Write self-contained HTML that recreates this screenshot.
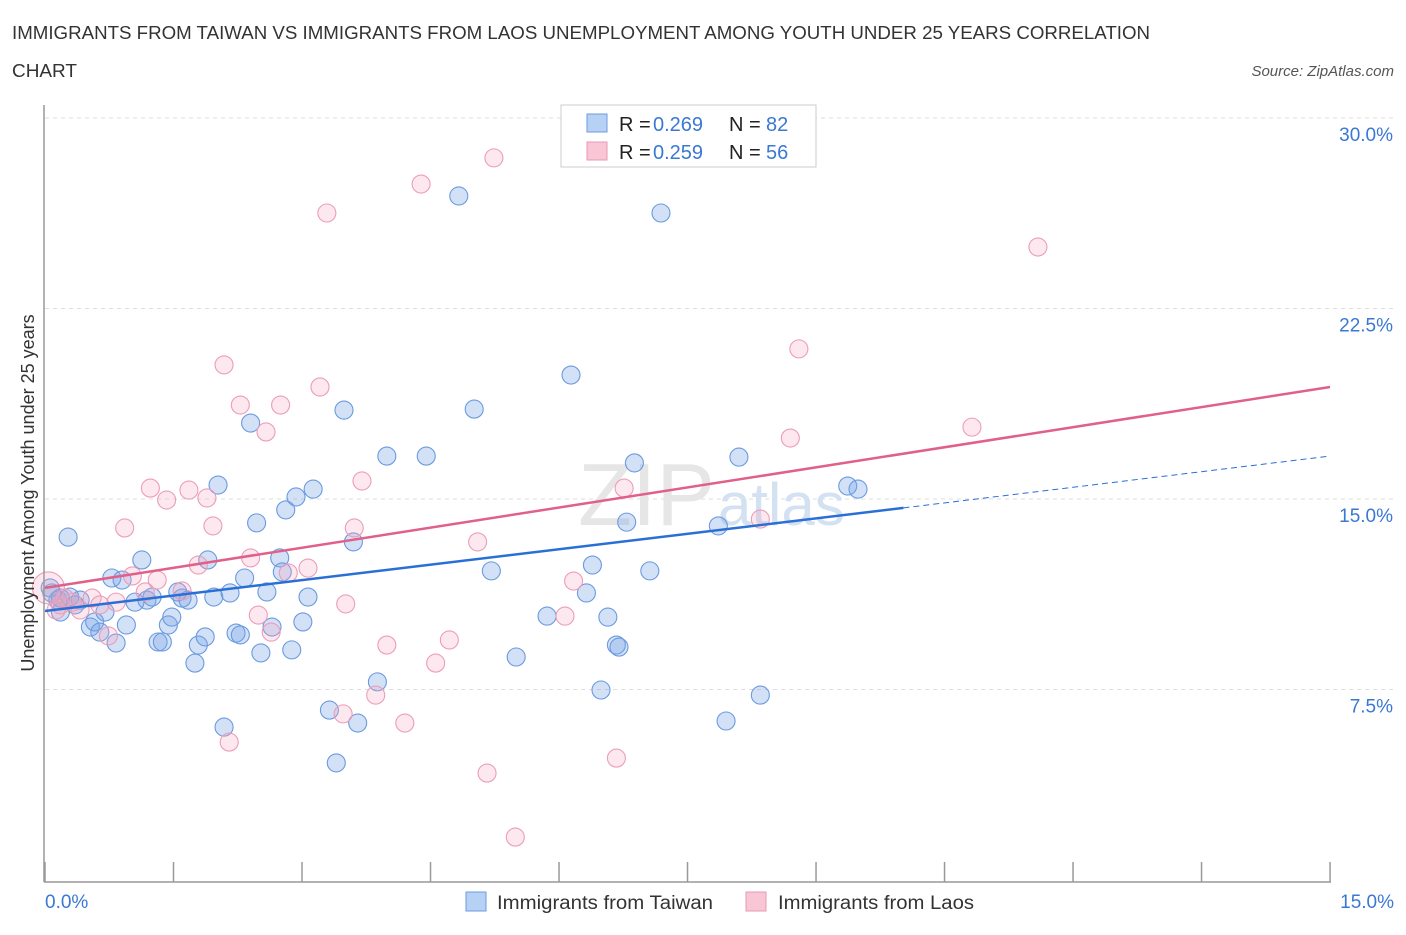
<!DOCTYPE html>
<html><head><meta charset="utf-8"><style>
body{margin:0;background:#fff;font-family:"Liberation Sans",sans-serif;}
svg text{font-family:"Liberation Sans",sans-serif;}
</style></head><body>
<svg width="1406" height="930" xmlns="http://www.w3.org/2000/svg">
<text x="12" y="39" font-size="18.5" fill="#333" textLength="1138" lengthAdjust="spacingAndGlyphs">IMMIGRANTS FROM TAIWAN VS IMMIGRANTS FROM LAOS UNEMPLOYMENT AMONG YOUTH UNDER 25 YEARS CORRELATION</text>
<text x="12" y="77" font-size="18.5" fill="#333" textLength="65" lengthAdjust="spacingAndGlyphs">CHART</text>
<text x="1394" y="76" font-size="15" fill="#555" font-style="italic" text-anchor="end">Source: ZipAtlas.com</text>
<g id="grid"></g>
<text x="715" y="525" font-size="88" font-family="Liberation Serif" fill="#e6e6e6" text-anchor="end">ZIP</text>
<text x="718" y="525" font-size="60" fill="#d3e1f3">atlas</text>
<g id="pts"></g>
<g id="lines"></g>
<line x1="44" y1="105" x2="44" y2="882" stroke="#999" stroke-width="1.5"/>
<line x1="44" y1="882" x2="1331" y2="882" stroke="#999" stroke-width="1.5"/>
<g id="ticks"></g>
<text x="45" y="908" font-size="19" fill="#3a78d4">0.0%</text>
<text x="1394" y="908" font-size="19" fill="#3a78d4" text-anchor="end">15.0%</text>
<text transform="translate(34,493) rotate(-90)" font-size="18" fill="#333" text-anchor="middle">Unemployment Among Youth under 25 years</text>
<g>
<rect x="561" y="105" width="255" height="62" fill="#fff" stroke="#ccc"/>
<rect x="587" y="114" width="20" height="18" fill="#b7d1f4" stroke="#6f9be0"/>
<rect x="587" y="142" width="20" height="18" fill="#f8c6d5" stroke="#e89ab3"/>
<text x="619" y="131" font-size="20" fill="#222">R =</text>
<text x="653" y="131" font-size="20" fill="#3a78d4">0.269</text>
<text x="729" y="131" font-size="20" fill="#222">N =</text>
<text x="766" y="131" font-size="20" fill="#3a78d4">82</text>
<text x="619" y="159" font-size="20" fill="#222">R =</text>
<text x="653" y="159" font-size="20" fill="#3a78d4">0.259</text>
<text x="729" y="159" font-size="20" fill="#222">N =</text>
<text x="766" y="159" font-size="20" fill="#3a78d4">56</text>
</g>
<g>
<rect x="466" y="892" width="20" height="19" fill="#b7d1f4" stroke="#6f9be0"/>
<text x="497" y="909" font-size="19" fill="#333" textLength="216" lengthAdjust="spacingAndGlyphs">Immigrants from Taiwan</text>
<rect x="746" y="892" width="20" height="19" fill="#f8c6d5" stroke="#e89ab3"/>
<text x="778" y="909" font-size="19" fill="#333" textLength="196" lengthAdjust="spacingAndGlyphs">Immigrants from Laos</text>
</g>
</svg>
<script>
const yTicks=[7.5,15,22.5,30];
const yTickLabels=["7.5%","15.0%","22.5%","30.0%"];
const xTicks=[0,1.5,3,4.5,6,7.5,9,10.5,12,13.5,15];
const blueX=[0.27,0.08,0.18,0.15,0.29,0.41,0.35,0.53,0.58,0.64,0.70,0.78,0.83,0.90,0.95,1.05,1.13,1.19,1.25,1.32,1.37,1.44,1.48,1.55,1.60,1.67,1.75,1.79,1.87,1.90,1.97,2.02,2.09,2.16,2.23,2.28,2.33,2.40,2.47,2.52,2.59,2.65,2.74,2.77,2.81,2.88,2.93,3.01,3.07,3.13,3.32,3.40,3.49,3.60,3.65,3.88,3.99,4.45,4.83,5.01,5.21,5.50,5.86,6.14,6.32,6.39,6.49,6.57,6.67,6.70,6.79,6.88,7.06,7.19,7.86,7.95,8.10,8.35,9.37,9.49,0.06,0.18];
const blueY=[13.50,11.30,10.55,11.02,11.14,11.02,10.83,9.96,10.16,9.76,10.55,11.89,9.33,11.81,10.04,10.94,12.60,11.02,11.14,9.37,9.37,10.04,10.35,11.34,11.10,11.02,8.54,9.25,9.57,12.60,11.14,15.55,6.02,11.30,9.72,9.65,11.89,17.99,14.06,8.94,11.34,9.96,12.68,12.13,14.57,9.06,15.08,10.16,11.14,15.39,6.69,4.61,18.50,13.31,6.18,7.80,16.69,16.69,26.93,18.54,12.17,8.78,10.39,19.88,11.30,12.40,7.48,10.35,9.25,9.17,14.09,16.42,12.17,26.26,13.94,6.26,16.65,7.28,15.51,15.39,11.50,11.10];
const pinkX=[0.04,0.13,0.23,0.32,0.41,0.55,0.64,0.74,0.83,0.93,1.02,1.17,1.23,1.31,1.42,1.60,1.68,1.79,1.89,1.96,2.09,2.15,2.28,2.40,2.49,2.58,2.64,2.75,2.84,3.07,3.21,3.29,3.51,3.48,3.61,3.70,3.86,3.99,4.20,4.39,4.56,4.72,5.05,5.16,5.24,5.49,6.07,6.17,6.67,6.76,8.35,8.70,8.80,10.82,11.59,0.18];
const pinkY=[11.50,10.63,11.10,10.94,10.63,11.10,10.83,9.61,10.94,13.86,11.97,11.34,15.43,11.81,14.96,11.38,15.35,12.40,15.04,13.94,20.28,5.43,18.70,12.68,10.43,17.64,9.76,18.70,12.09,12.28,19.41,26.26,10.87,6.54,13.86,15.71,7.28,9.25,6.18,27.40,8.54,9.45,13.31,4.21,28.43,1.69,10.39,11.77,4.80,15.43,14.21,17.40,20.91,17.83,24.92,10.83];
const blueTrend=[10.59,14.65,16.69];
const blueTrendX=[0,10.02,15];
const pinkTrend=[11.50,19.41];
const pinkTrendX=[0,15];

const NS="http://www.w3.org/2000/svg";
const sx=v=>45+v*85.67;
const sy=v=>880-v*25.4;
function mk(tag,attrs,parent){const e=document.createElementNS(NS,tag);for(const k in attrs)e.setAttribute(k,attrs[k]);parent.appendChild(e);return e;}
const grid=document.getElementById('grid');
yTicks.forEach((t,i)=>{
  const l=mk('line',{x1:45,x2:1394,y1:sy(t),y2:sy(t),stroke:'#ddd','stroke-dasharray':'4,4'},grid);
  
  
  const tx=mk('text',{x:1393,y:sy(t)+23,'font-size':19,fill:'#3a78d4','text-anchor':'end'},grid);
  tx.textContent=yTickLabels[i];
  
  
});
const ticks=document.getElementById('ticks');
xTicks.forEach(t=>{
  const l=mk('line',{x1:sx(t),x2:sx(t),y1:862,y2:882,stroke:'#999','stroke-width':1.5},ticks);
  
  
});
const pts=document.getElementById('pts');
blueX.forEach((x,i)=>{
  const c=mk('circle',{cx:sx(x),cy:sy(blueY[i]),r:9,fill:'rgba(120,165,230,0.33)',stroke:'#6a9ae0','stroke-width':1.1},pts);
  
  
});
pinkX.forEach((x,i)=>{
  const c=mk('circle',{cx:sx(x),cy:sy(pinkY[i]),r:i==0?16:9,fill:'rgba(245,165,190,0.26)',stroke:'#ec9db7','stroke-width':1.1},pts);
  
  
});
const lines=document.getElementById('lines');
const b1=mk('line',{x1:sx(blueTrendX[0]),y1:sy(blueTrend[0]),x2:sx(blueTrendX[1]),y2:sy(blueTrend[1]),stroke:'#2a6fd6','stroke-width':2.5},lines);


const b2=mk('line',{x1:sx(blueTrendX[1]),y1:sy(blueTrend[1]),x2:sx(blueTrendX[2]),y2:sy(blueTrend[2]),stroke:'#2a6fd6','stroke-width':1,'stroke-dasharray':'6,4'},lines);


const p1=mk('line',{x1:sx(pinkTrendX[0]),y1:sy(pinkTrend[0]),x2:sx(pinkTrendX[1]),y2:sy(pinkTrend[1]),stroke:'#e0608a','stroke-width':2.5},lines);


</script>
</body></html>
